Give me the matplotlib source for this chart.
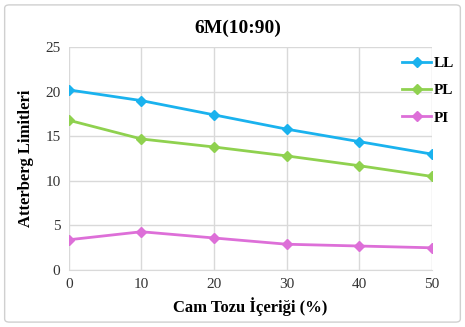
import matplotlib
matplotlib.use("Agg")
import matplotlib.pyplot as plt
from matplotlib.patches import FancyBboxPatch

x = [0, 10, 20, 30, 40, 50]
LL = [20.2, 19.0, 17.4, 15.8, 14.4, 13.0]
PL = [16.8, 14.7, 13.8, 12.8, 11.7, 10.5]
PI = [3.4, 4.3, 3.6, 2.9, 2.7, 2.5]
series = [("LL", LL, "#1AB2EE"), ("PL", PL, "#8FD14F"), ("PI", PI, "#DD6FD8")]

plt.rcParams['font.family'] = ['Liberation Serif', 'DejaVu Serif']

fig = plt.figure(figsize=(4.65, 3.27), dpi=100)
ax = fig.add_axes([0.148, 0.174, 0.781, 0.682])

for name, vals, col in series:
    ax.plot(x, vals, color=col, lw=2, marker='D', ms=5, label=name)

ax.set_xlim(0, 50)
ax.set_ylim(0, 25)
ax.set_xticks([0, 10, 20, 30, 40, 50])
ax.set_yticks([0, 5, 10, 15, 20, 25])
ax.grid(True, color='#D9D9D9', lw=1)
ax.set_axisbelow(True)
for s in ['top', 'right', 'left']:
    ax.spines[s].set_visible(False)
ax.spines['bottom'].set_color('#D9D9D9')
ax.tick_params(length=0, labelsize=11, colors='#333333', pad=6)
ax.set_xlabel('Cam Tozu İçeriği (%)', fontsize=12, fontweight='bold', labelpad=4)
ax.set_ylabel('Atterberg Limitleri', fontsize=12, fontweight='bold', labelpad=8)
fig.text(0.512, 0.913, '6M(10:90)', ha='center', va='center', fontsize=14, fontweight='bold')

fig.legend(loc='upper right', bbox_to_anchor=(1.005, 0.87), frameon=False,
           prop={'weight': 'bold', 'size': 11}, handlelength=1.9,
           handletextpad=0.15, labelspacing=0.9)

fig.patches.append(FancyBboxPatch((0.01, 0.015), 0.98, 0.97, boxstyle='round,pad=0,rounding_size=0.01',
                                  transform=fig.transFigure, fill=False, ec='#D0D0D0', lw=1))
fig.savefig('out.png', dpi=100)
